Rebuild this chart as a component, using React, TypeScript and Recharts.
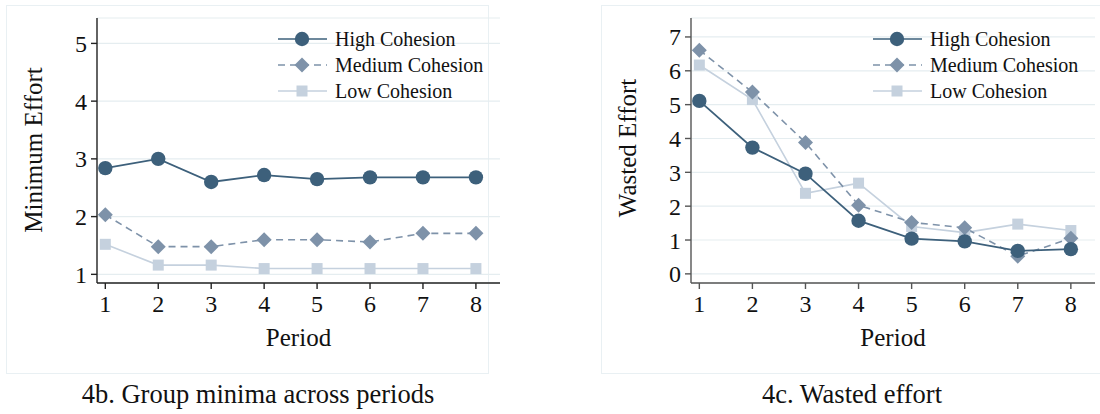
import { LineChart, Line, XAxis, YAxis, CartesianGrid, Legend } from 'recharts';

const periods = [1, 2, 3, 4, 5, 6, 7, 8];

// 4b. group minima
const minHigh = [2.84, 3.0, 2.6, 2.72, 2.65, 2.68, 2.68, 2.68];
const minMedium = [2.03, 1.48, 1.48, 1.6, 1.6, 1.56, 1.71, 1.71];
const minLow = [1.52, 1.16, 1.16, 1.1, 1.1, 1.1, 1.1, 1.1];

// 4c. wasted effort
const wasteHigh = [5.11, 3.73, 2.96, 1.57, 1.04, 0.96, 0.68, 0.73];
const wasteMedium = [6.61, 5.37, 3.88, 2.03, 1.52, 1.36, 0.52, 1.05];
const wasteLow = [6.17, 5.15, 2.38, 2.68, 1.4, 1.22, 1.47, 1.28];

const minTicks = [1, 2, 3, 4, 5];
const wasteTicks = [0, 1, 2, 3, 4, 5, 6, 7];

const FONT = '"Liberation Serif", "Times New Roman", serif';

type Shape = 'circle' | 'diamond' | 'square';

const series: { key: string; name: string; color: string; shape: Shape; dash?: string; width: number }[] = [
  { key: 'high', name: 'High Cohesion', color: '#3d607b', shape: 'circle', width: 1.8 },
  { key: 'medium', name: 'Medium Cohesion', color: '#7e92a9', shape: 'diamond', dash: '7 5', width: 1.6 },
  { key: 'low', name: 'Low Cohesion', color: '#c5d1de', shape: 'square', width: 1.6 },
];

const minRows = periods.map((p, i) => ({ period: p, high: minHigh[i], medium: minMedium[i], low: minLow[i] }));
const wasteRows = periods.map((p, i) => ({ period: p, high: wasteHigh[i], medium: wasteMedium[i], low: wasteLow[i] }));

function Marker({ cx, cy, shape, color }: { cx: number; cy: number; shape: Shape; color: string }) {
  if (cx == null || cy == null) return null;
  if (shape === 'circle') return <circle cx={cx} cy={cy} r={7.2} fill={color} />;
  if (shape === 'diamond')
    return <path d={`M${cx},${cy - 7.5} L${cx + 7.5},${cy} L${cx},${cy + 7.5} L${cx - 7.5},${cy} Z`} fill={color} />;
  return <rect x={cx - 5.5} y={cy - 5.5} width={11} height={11} fill={color} />;
}

function LegendBox() {
  return (
    <div style={{ fontFamily: FONT, fontSize: 20, color: '#111' }}>
      {series.map((s) => (
        <div key={s.key} style={{ display: 'flex', alignItems: 'center', height: 26 }}>
          <svg width={49} height={20} style={{ marginRight: 8 }}>
            <line x1={0} y1={10} x2={49} y2={10} stroke={s.color} strokeWidth={1.6} strokeDasharray={s.dash} />
            <Marker cx={24} cy={10} shape={s.shape} color={s.color} />
          </svg>
          <span style={{ lineHeight: '26px' }}>{s.name}</span>
        </div>
      ))}
    </div>
  );
}

function Panel({
  rows,
  ticks,
  domain,
  yLabel,
  yLabelX,
  yLabelY,
  yAxisWidth,
  width,
  marginRight,
  legendLeft,
  axisColor,
}: {
  rows: any[];
  ticks: number[];
  domain: [number, number];
  yLabel: string;
  yLabelX: number;
  yLabelY: number;
  yAxisWidth: number;
  width: number;
  marginRight: number;
  legendLeft: number;
  axisColor: string;
}) {
  const tickStyle = { fill: '#111', fontSize: 24, fontFamily: FONT };
  return (
    <LineChart width={width} height={360} data={rows} margin={{ top: 18, right: marginRight, bottom: 17, left: 0 }}>
      <CartesianGrid vertical={false} stroke="#e5edf0" strokeWidth={1.2} />
      <XAxis
        dataKey="period"
        type="number"
        domain={[0.843, 8.455]}
        ticks={periods}
        allowDataOverflow
        height={60}
        tickSize={6}
        tickMargin={6}
        tick={tickStyle}
        stroke={axisColor}
        strokeWidth={1.4}
        label={{ value: 'Period', position: 'insideBottom', offset: -3, fill: '#111', fontSize: 25, fontFamily: FONT }}
      />
      <YAxis
        type="number"
        domain={domain}
        ticks={ticks}
        allowDataOverflow
        width={yAxisWidth}
        tickSize={6}
        tickMargin={4}
        tick={tickStyle}
        stroke={axisColor}
        strokeWidth={1.4}
        label={{
          value: yLabel,
          content: () => (
            <text
              x={yLabelX}
              y={yLabelY}
              transform={`rotate(-90, ${yLabelX}, ${yLabelY})`}
              textAnchor="middle"
              dominantBaseline="central"
              fill="#111"
              fontSize={25}
              fontFamily={FONT}
            >
              {yLabel}
            </text>
          ),
        }}
      />
      <Legend
        layout="vertical"
        align="center"
        verticalAlign="middle"
        content={() => <LegendBox />}
        wrapperStyle={{ left: legendLeft, top: 26, width: 'auto' }}
      />
      {[...series].reverse().map((s) => (
        <Line
          key={s.key}
          type="linear"
          dataKey={s.key}
          name={s.name}
          stroke={s.color}
          strokeWidth={s.width}
          strokeDasharray={s.dash}
          isAnimationActive={false}
          activeDot={false}
          dot={(p: any) => <Marker key={`${s.key}-${p.index}`} cx={p.cx} cy={p.cy} shape={s.shape} color={s.color} />}
        />
      ))}
    </LineChart>
  );
}

const captionStyle: React.CSSProperties = {
  position: 'absolute',
  top: 379,
  fontFamily: FONT,
  fontSize: 26.5,
  color: '#111',
  textAlign: 'center',
  whiteSpace: 'nowrap',
};

export default function App() {
  return (
    <div style={{ position: 'absolute', left: 0, top: 0, width: 1100, height: 414, background: '#fff', overflow: 'hidden' }}>
      <div style={{ position: 'absolute', left: 6, top: 5, width: 481, height: 367, border: '1.5px solid #e9f0f3' }} />
      <div style={{ position: 'absolute', left: 601, top: 5, width: 560, height: 367, border: '1.5px solid #e9f0f3' }} />

      <div style={{ position: 'absolute', left: 0, top: 0 }}>
        <Panel
          rows={minRows}
          ticks={minTicks}
          domain={[0.85, 5.44]}
          yLabel="Minimum Effort"
          yLabelX={33}
          yLabelY={150}
          yAxisWidth={97}
          width={520}
          marginRight={20}
          legendLeft={278}
          axisColor="#222"
        />
      </div>
      <div style={{ position: 'absolute', left: 600, top: 0 }}>
        <Panel
          rows={wasteRows}
          ticks={wasteTicks}
          domain={[-0.27, 7.56]}
          yLabel="Wasted Effort"
          yLabelX={27}
          yLabelY={148}
          yAxisWidth={91}
          width={500}
          marginRight={5}
          legendLeft={273}
          axisColor="#555"
        />
      </div>

      <div style={{ ...captionStyle, left: 58, width: 400 }}>4b. Group minima across periods</div>
      <div style={{ ...captionStyle, left: 652, width: 400 }}>4c. Wasted effort</div>
    </div>
  );
}
